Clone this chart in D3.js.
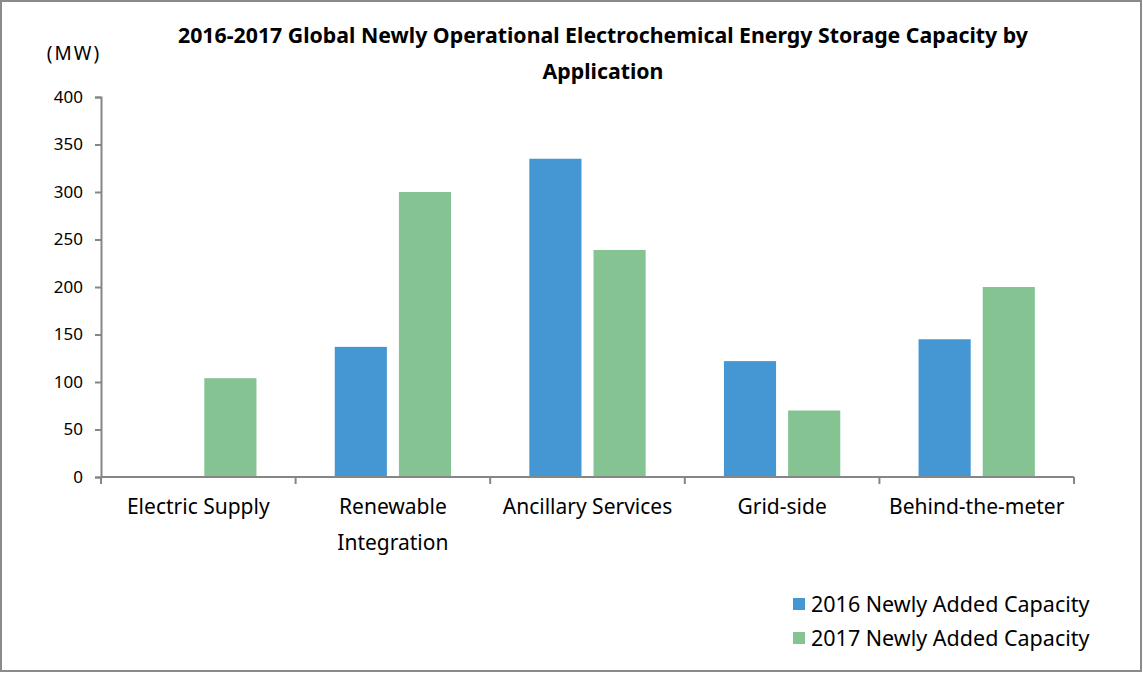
<!DOCTYPE html>
<html><head><meta charset="utf-8">
<script src="https://cdn.jsdelivr.net/npm/d3@7"></script>
<style>body{margin:0;background:#fff}svg{display:block}text{font-family:"Noto Sans","Open Sans",sans-serif}</style>
</head><body>
<svg id="c" width="1143" height="673"></svg>
<script>
const categories = [["Electric Supply"],["Renewable","Integration"],["Ancillary Services"],["Grid-side"],["Behind-the-meter"]];
const seriesNames = ["2016 Newly Added Capacity","2017 Newly Added Capacity"];
const values2016 = [0, 137, 335, 122, 145];
const values2017 = [104, 300, 239, 70, 200];
const yTicks = [0,50,100,150,200,250,300,350,400];
const colors = ["#4597D3","#85C393"];
const titleLines = ["2016-2017 Global Newly Operational Electrochemical Energy Storage Capacity by","Application"];

(function(){
const svg = d3.select("#c");
svg.append("rect").attr("x",1).attr("y",1).attr("width",1140).attr("height",670)
  .attr("fill","#fff").attr("stroke","#8a8a8a").attr("stroke-width",2);

const pLeft=101, pRight=1074, pTop=97, pBottom=477;
const keys = categories.map(d=>d.join(" "));
const x0 = d3.scaleBand().domain(keys).range([pLeft,pRight]).padding(0);
const x1 = d3.scaleBand().domain(seriesNames).range([0,x0.bandwidth()]).paddingInner(0.1875).paddingOuter(0.61);
const y = d3.scaleLinear().domain([0,400]).range([pBottom,pTop]);

const data = keys.map((k,i)=>({k, vals:[values2016[i],values2017[i]]}));
const g = svg.append("g");
data.forEach(d=>{
  d.vals.forEach((v,j)=>{
    if(v<=0) return;
    g.append("rect").attr("x",x0(d.k)+x1(seriesNames[j])).attr("width",x1.bandwidth())
      .attr("y",y(v)).attr("height",y(0)-y(v)).attr("fill",colors[j]);
  });
});

const axisCol="#868686";
const ya = svg.append("g").attr("transform",`translate(${pLeft},0)`)
  .call(d3.axisLeft(y).tickValues(yTicks).tickSize(6).tickPadding(12));
ya.select(".domain").attr("stroke",axisCol).attr("stroke-width",2);
ya.selectAll(".tick line").attr("stroke",axisCol).attr("stroke-width",2);
ya.selectAll(".tick text").attr("font-size",17).attr("fill","#000").attr("font-family",'"Noto Sans",sans-serif');

const bounds = keys.map(k=>x0(k)).concat([pRight]);
const xg = svg.append("g");
xg.append("line").attr("x1",pLeft).attr("x2",pRight).attr("y1",pBottom).attr("y2",pBottom)
  .attr("stroke",axisCol).attr("stroke-width",2);
bounds.forEach(b=>{
  xg.append("line").attr("x1",b).attr("x2",b).attr("y1",pBottom).attr("y2",pBottom+7)
    .attr("stroke",axisCol).attr("stroke-width",2);
});
categories.forEach((lines,i)=>{
  const t = xg.append("text").attr("text-anchor","middle").attr("font-size",21).attr("fill","#000");
  lines.forEach((ln,li)=>{
    t.append("tspan").attr("x",x0(keys[i])+x0.bandwidth()/2).attr("y",514+li*36).text(ln);
  });
});

titleLines.forEach((ln,i)=>{
  svg.append("text").attr("x",603).attr("y",43+i*36).attr("text-anchor","middle")
    .attr("font-size",21.3).attr("font-weight","bold").attr("fill","#000").text(ln);
});
svg.append("text").attr("x",74).attr("y",60).attr("text-anchor","middle").attr("font-size",19)
  .attr("letter-spacing",2).attr("fill","#000").text("(MW)");

seriesNames.forEach((s,i)=>{
  const ly = 604 + i*34;
  svg.append("rect").attr("x",793).attr("y",ly-6).attr("width",12).attr("height",12).attr("fill",colors[i]);
  svg.append("text").attr("x",811).attr("y",ly+8).attr("font-size",21.5).attr("fill","#000").text(s);
});
})();
</script>
</body></html>
